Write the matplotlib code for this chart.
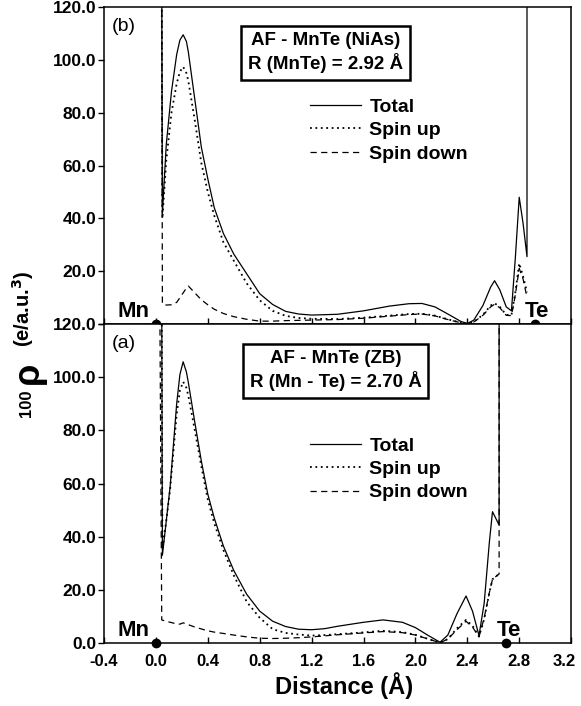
import numpy as np
import matplotlib
matplotlib.use("Agg")
import matplotlib.pyplot as plt
from matplotlib.transforms import ScaledTranslation

plt.rcParams['font.family'] = ['Liberation Sans', 'DejaVu Sans']
plt.rcParams['font.weight'] = 'bold'
plt.rcParams['axes.unicode_minus'] = False

# panel (b): AF-MnTe NiAs, R = 2.92 A
xb = [0.045, 0.05, 0.08, 0.12, 0.16, 0.185, 0.21, 0.235, 0.25, 0.30, 0.35, 0.40, 0.45, 0.52,
      0.60, 0.70, 0.80, 0.90, 1.00, 1.10, 1.20, 1.40, 1.60, 1.80, 1.95, 2.05, 2.15, 2.25,
      2.35, 2.40, 2.45, 2.52, 2.58, 2.61, 2.65, 2.70, 2.74, 2.77, 2.80, 2.83, 2.86, 2.86]
total_b = [130, 42, 68, 88, 102, 107.5, 109.5, 107, 103, 85, 67, 55, 44, 34.3, 26.5, 19, 11.5,
           7.4, 4.8, 3.8, 3.4, 3.7, 5.0, 6.8, 7.7, 7.8, 6.5, 3.8, 1.0, 0.2, 1.5, 7, 14, 16.4,
           13, 6.5, 5, 25, 48, 38, 25.5, 130]
up_b = [130, 40, 62, 80, 91, 95.5, 97.4, 95, 92, 77, 61, 50, 41, 31, 24, 15.4, 9, 5, 3.1,
        2.3, 2.0, 1.9, 2.4, 3.2, 3.8, 3.9, 3.2, 1.8, 0.5, 0.1, 0.8, 3.5, 7, 7.9, 6.5, 3.5, 3.4,
        12, 23, 18, 12, np.nan]
down_b = [130, 7.6, 7.2, 7.3, 8.2, 10, 11.8, 13.6, 14.4, 11.8, 9.2, 7.3, 5.6, 4.0, 2.8, 1.8,
          1.1, 1.1, 1.3, 1.4, 1.5, 1.7, 2.2, 3.0, 3.6, 3.8, 3.1, 1.7, 0.5, 0.1, 0.8, 3.3, 6.5,
          7.5, 6.2, 3.3, 3.2, 11, 21, 17, 10, np.nan]

# panel (a): AF-MnTe ZB, R = 2.70 A
xa = [0.03, 0.045, 0.05, 0.08, 0.11, 0.16, 0.185, 0.21, 0.235, 0.25, 0.30, 0.35, 0.40, 0.45,
      0.52, 0.60, 0.70, 0.80, 0.90, 1.00, 1.10, 1.20, 1.30, 1.40, 1.60, 1.75, 1.90, 2.00,
      2.10, 2.19, 2.25, 2.32, 2.39, 2.44, 2.49, 2.53, 2.57, 2.594, 2.645, 2.645]
total_a = [np.nan, 130, 33, 46, 59, 90, 101, 105.8, 102, 98, 83, 68.5, 56, 47, 36.5, 27.3,
           18.3, 12, 8.2, 6.2, 5.2, 5.0, 5.4, 6.3, 7.8, 8.7, 7.8, 5.8, 2.8, 0.3, 3.0, 11,
           17.7, 12, 2.8, 15, 38, 49.4, 44.4, 130]
up_a = [np.nan, 130, 35, 46, 58, 86, 95, 98.3, 96, 93, 80, 66.5, 54, 45, 35, 25.5, 15.5, 9.5,
        5.2, 3.8, 3.2, 2.8, 3.0, 3.3, 4.0, 4.6, 4.1, 3.1, 1.5, 0.1, 1.5, 5.5, 8.7, 6.5, 2.5,
        9, 19, 24, 26, np.nan]
down_a = [130, 8.7, 8.6, 8.2, 7.8, 7.2, 7.1, 7.6, 7.2, 6.9, 6.0, 5.3, 4.6, 4.1, 3.6, 3.0,
          2.3, 1.8, 1.7, 1.8, 2.0, 2.3, 2.7, 3.1, 3.8, 4.3, 3.9, 3.0, 1.5, 0.1, 1.5, 5.0, 8.2,
          6.0, 2.3, 9.5, 19, 24, 26, 130]

te_pos = [2.92, 2.70]
xticks = [-0.4, 0.0, 0.4, 0.8, 1.2, 1.6, 2.0, 2.4, 2.8, 3.2]
yticks = [0, 20, 40, 60, 80, 100, 120]

fig = plt.figure(figsize=(5.81, 7.06), dpi=100)
ax_b = fig.add_axes([0.179, 0.541, 0.804, 0.449])
ax_a = fig.add_axes([0.179, 0.0892, 0.804, 0.4518])

panels = [
    (ax_b, xb, total_b, up_b, down_b, '(b)', 'AF - MnTe (NiAs)\nR (MnTe) = 2.92 Å', 0.474, 0.856, 0.713),
    (ax_a, xa, total_a, up_a, down_a, '(a)', 'AF - MnTe (ZB)\nR (Mn - Te) = 2.70 Å', 0.496, 0.854, 0.646),
]

for i, (ax, x, tot, up, dn, tag, title, bx, by, ly) in enumerate(panels):
    ax.plot(x, tot, color='black', lw=0.9, label='Total')
    ax.plot(x, up, color='black', lw=1.3, linestyle=(0, (1, 2)), label='Spin up')
    ax.plot(x, dn, color='black', lw=0.9, linestyle=(0, (5, 3.5)), label='Spin down')
    ax.set_xlim(-0.4, 3.2)
    ax.set_ylim(0, 120)
    ax.set_xticks(xticks)
    ax.set_yticks(yticks)
    for s in ax.spines.values():
        s.set_linewidth(1.1)
    ax.tick_params(axis='x', direction='in', length=4, width=1, labelsize=12, pad=8)
    ax.tick_params(axis='y', direction='out', length=4, width=1, labelsize=12.5, pad=1.5)
    ax.text(0.017, 0.94, tag, transform=ax.transAxes, fontsize=14, fontweight='normal',
            ha='left', va='center')
    ax.text(bx, by, title, transform=ax.transAxes, fontsize=13.5, ha='center', va='center',
            linespacing=1.25,
            bbox=dict(boxstyle='square,pad=0.35', facecolor='white', edgecolor='black', lw=1.8))
    ax.legend(loc='upper left', bbox_to_anchor=(0.441, ly), frameon=False,
              prop={'size': 14, 'weight': 'bold'}, handlelength=2.6, handletextpad=0.45,
              labelspacing=0.3, borderpad=0, borderaxespad=0)
    ax.plot([0.0], [0], 'o', color='black', ms=6, clip_on=False, zorder=5)
    ax.plot([te_pos[i]], [0], 'o', color='black', ms=6, clip_on=False, zorder=5)
    ax.text(-0.05, 0.8, 'Mn', fontsize=16, ha='right', va='bottom')

ax_b.text(2.845, 0.8, 'Te', fontsize=16, ha='left', va='bottom')
ax_a.text(2.63, 0.8, 'Te', fontsize=16, ha='left', va='bottom')

ax_b.set_xticklabels([])
ax_b.set_yticklabels(['', '20.0', '40.0', '60.0', '80.0', '100.0', '120.0'])
ax_a.set_xticklabels(['%.1f' % t for t in xticks])
ax_a.set_yticklabels(['%.1f' % t for t in yticks])
# last label sits a bit left of its tick, as in the original
last = ax_a.get_xticklabels()[-1]
last.set_transform(last.get_transform() + ScaledTranslation(-5 / 72, 0, fig.dpi_scale_trans))

fig.text(344 / 581, 1 - 686 / 706, 'Distance (Å)', fontsize=17, ha='center', va='center')
fig.text(26 / 581, 1 - 403 / 706, '100', fontsize=12, rotation=90, ha='center', va='center')
fig.text(28 / 581, 1 - 373 / 706, 'ρ', fontsize=26, rotation=90, ha='center', va='center')
fig.text(23 / 581, 1 - 309 / 706, '(e/a.u.$^\\mathbf{3}$)', fontsize=14.5, rotation=90,
         ha='center', va='center')

fig.savefig('out.png', dpi=100)
